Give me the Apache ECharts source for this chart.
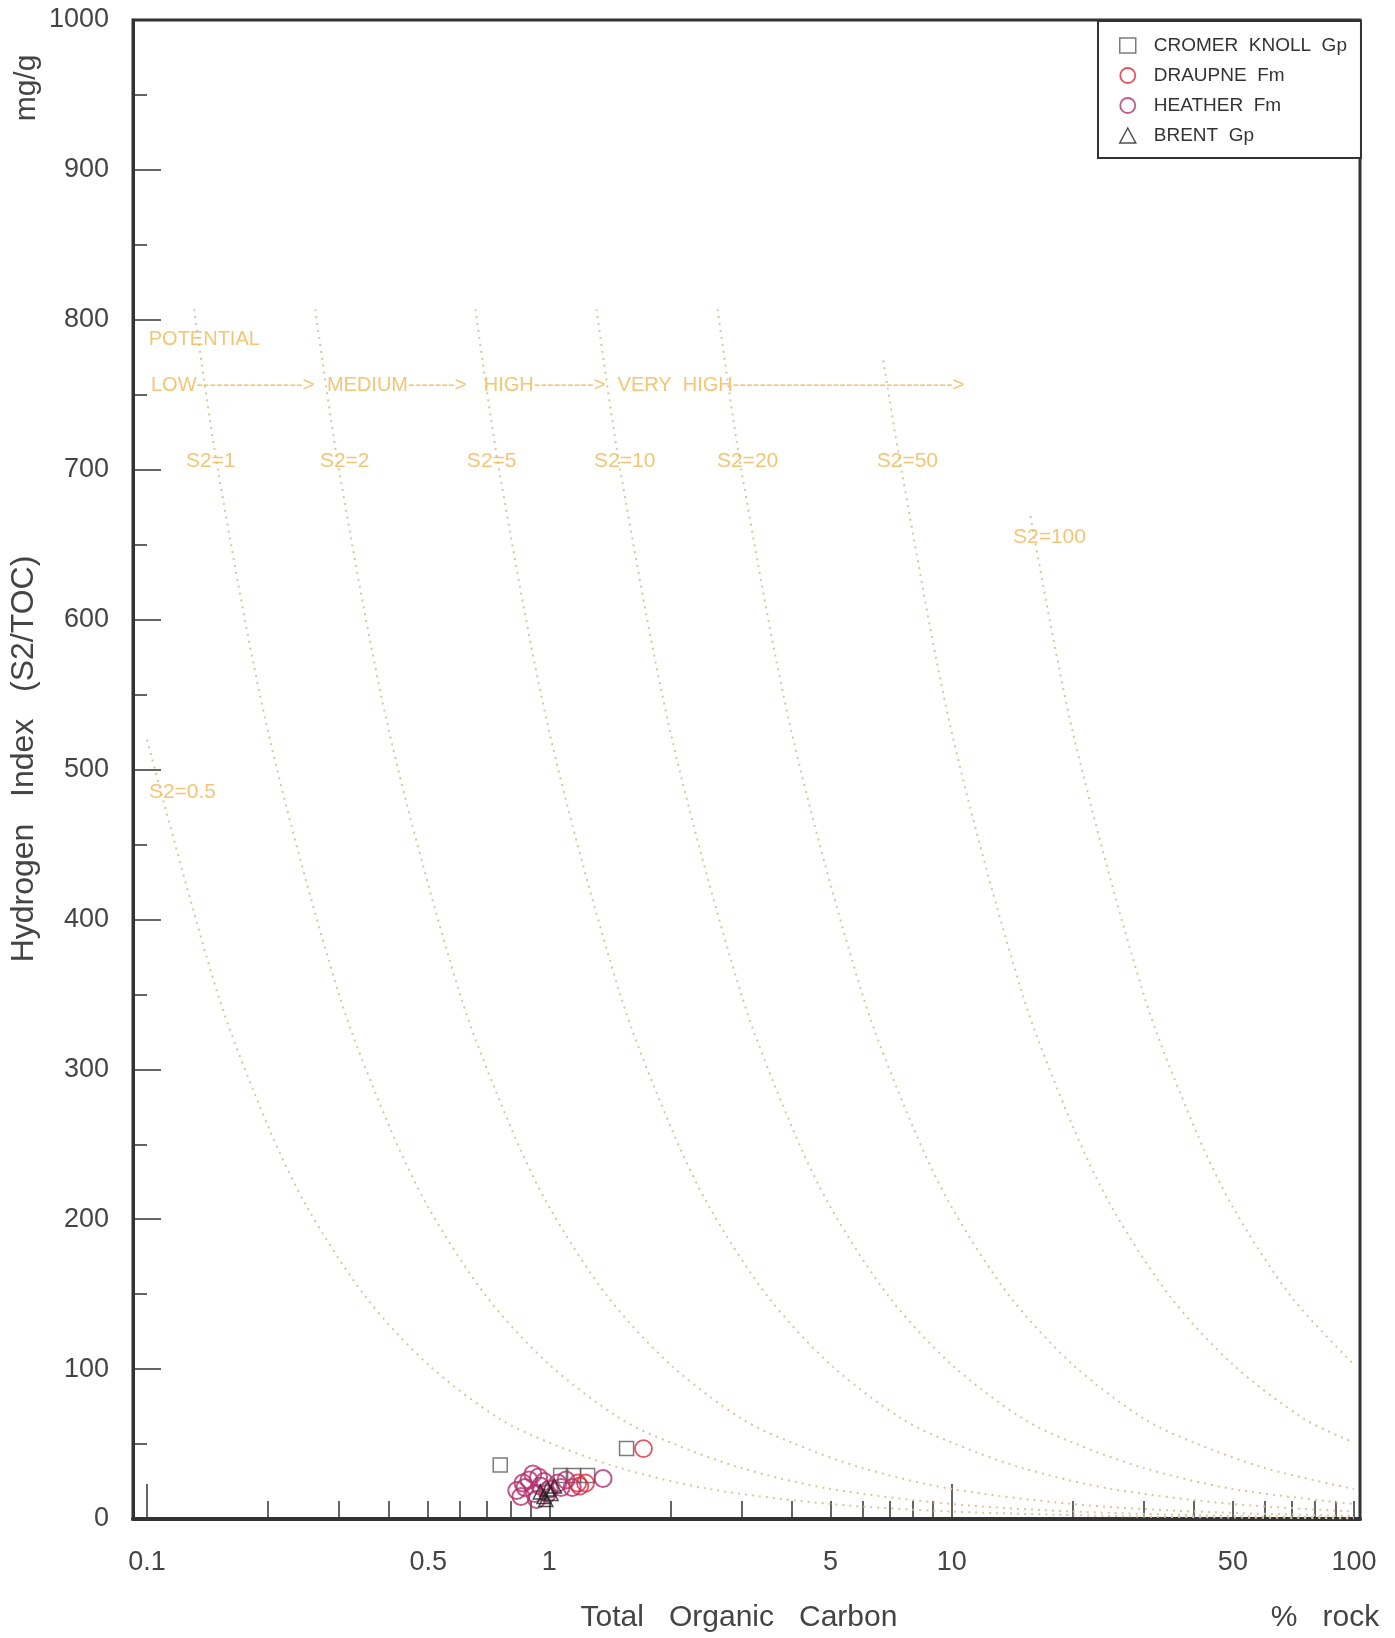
<!DOCTYPE html>
<html>
<head>
<meta charset="utf-8">
<title>Hydrogen Index vs Total Organic Carbon</title>
<script src="https://cdn.jsdelivr.net/npm/echarts@6/dist/echarts.min.js"></script>
<style>
  html, body { margin: 0; padding: 0; background: #fff; }
  #main { width: 1395px; height: 1638px; }
</style>
</head>
<body>
<div id="main"></div>
<script type="text/javascript">
// samples: TOC in % rock, HI in mg/g
var cromerToc = [0.755, 1.556, 1.067, 1.148, 1.245];
var cromerHi = [36, 47, 29, 29, 29];
var draupneToc = [1.714, 1.176, 1.23, 1.19];
var draupneHi = [47, 24, 24, 22];
var heatherToc = [0.83, 0.85, 0.86, 0.87, 0.89, 0.91, 0.92, 0.93, 0.94, 0.95, 0.97, 0.99, 1.00, 1.05, 1.07, 1.10, 1.14, 1.36];
var heatherHi = [19, 15, 24, 21, 26, 30, 17, 13, 28, 22, 25, 17, 20, 24, 21, 26, 21, 27];
var brentToc = [0.95, 0.97, 0.99, 1.01, 1.03, 0.98];
var brentHi = [18, 15, 20, 17, 22, 13];

// iso-S2 guide curves (dotted)
var s2_05_toc = [0.1, 0.15, 0.2, 0.25, 0.35, 0.5, 0.75, 1, 1.5, 2.5, 5, 10, 25, 50, 100];
var s2_05_hi = [520, 350, 262, 208, 148, 103, 67, 51, 34, 20, 10, 5, 2, 1, 0.5];
var s2_1_toc = [0.131, 0.15, 0.2, 0.3, 0.4, 0.5, 0.7, 1, 1.5, 2, 3, 5, 10, 20, 50, 100];
var s2_1_hi = [807, 700, 525, 350, 262, 208, 148, 103, 67, 51, 34, 20, 10, 5, 2, 1];
var s2_2_toc = [0.262, 0.3, 0.4, 0.6, 0.8, 1, 1.4, 2, 3, 4, 6, 10, 20, 40, 100];
var s2_2_hi = [807, 700, 525, 350, 262, 208, 148, 103, 67, 51, 34, 20, 10, 5, 2];
var s2_5_toc = [0.655, 0.75, 1, 1.5, 2, 2.5, 3.5, 5, 7.5, 10, 15, 25, 50, 100];
var s2_5_hi = [807, 700, 525, 350, 262, 208, 148, 103, 67, 51, 34, 20, 10, 5];
var s2_10_toc = [1.31, 1.5, 2, 3, 4, 5, 7, 10, 15, 20, 30, 50, 100];
var s2_10_hi = [807, 700, 525, 350, 262, 208, 148, 103, 67, 51, 34, 20, 10];
var s2_20_toc = [2.62, 3, 4, 6, 8, 10, 14, 20, 30, 40, 60, 100];
var s2_20_hi = [807, 700, 525, 350, 262, 208, 148, 103, 67, 51, 34, 20];
var s2_50_toc = [6.76, 7.5, 10, 15, 20, 25, 35, 50, 75, 100];
var s2_50_hi = [773, 700, 525, 350, 262, 208, 148, 103, 67, 51];
var s2_100_toc = [15.7, 20, 30, 40, 50, 70, 100];
var s2_100_hi = [669, 525, 350, 262, 208, 148, 103];

// annotation texts
var potText = ['POTENTIAL', 'LOW---------------->', 'MEDIUM------->', 'HIGH--------->', 'VERY  HIGH--------------------------------->'];
var potToc = [0.101, 0.1023, 0.280, 0.687, 1.478];
var potHi = [787, 756, 756, 756, 756];
var s2Text = ['S2=0.5', 'S2=1', 'S2=2', 'S2=5', 'S2=10', 'S2=20', 'S2=50', 'S2=100'];
var s2Toc = [0.1225, 0.144, 0.310, 0.719, 1.54, 3.11, 7.76, 17.5];
var s2Hi = [485, 706, 706, 706, 706, 706, 706, 655];

// axis ticks
var tocTicks = [0.2, 0.3, 0.4, 0.5, 0.6, 0.7, 0.8, 0.9, 1, 2, 3, 4, 5, 6, 7, 8, 9, 20, 30, 40, 50, 60, 70, 80, 90, 100];
var tocLongTicks = [0.1, 10];
var tocLabels = [0.1, 0.5, 1, 5, 10, 50, 100];

var FONT = 'Liberation Sans';
var ORANGE = '#efb850';
var GUIDE = '#d9c6a0';

function pairs(xs, ys) {
    return xs.map(function (x, i) { return [x, ys[i]]; });
}

function guide(xs, ys) {
    return {
        type: 'line',
        data: pairs(xs, ys),
        smooth: 0.3,
        symbol: 'none',
        silent: true,
        z: 1,
        lineStyle: { color: GUIDE, width: 2, type: [2, 5] }
    };
}

var X_MIN = 0.0923, X_MAX = 103.5;

var myChart = echarts.init(document.getElementById('main'), null, { renderer: 'canvas' });
var option = {
    animation: false,
    backgroundColor: '#fff',
    textStyle: { fontFamily: FONT },
    grid: {
        left: 133, top: 20, width: 1227, height: 1499,
        show: true, borderColor: '#333', borderWidth: 3
    },
    legend: {
        left: 1098, top: 21,
        orient: 'vertical',
        align: 'left',
        itemWidth: 16, itemHeight: 15, itemGap: 11,
        symbolKeepAspect: true,
        padding: [15, 14, 13, 21],
        borderColor: '#333', borderWidth: 2,
        backgroundColor: '#fff',
        textStyle: { fontSize: 19, color: '#333', fontFamily: FONT, padding: [0, 0, 0, 13] },
        data: [
            { name: 'CROMER  KNOLL  Gp', icon: 'rect', itemStyle: { color: 'transparent', borderColor: '#5a5a5a', borderWidth: 1.5 } },
            { name: 'DRAUPNE  Fm', icon: 'circle', itemStyle: { color: 'transparent', borderColor: '#e0283c', borderWidth: 1.8 } },
            { name: 'HEATHER  Fm', icon: 'circle', itemStyle: { color: 'transparent', borderColor: '#b3306e', borderWidth: 1.8 } },
            { name: 'BRENT  Gp', icon: 'triangle', itemStyle: { color: 'transparent', borderColor: '#222', borderWidth: 1.5 } }
        ]
    },
    xAxis: [
        {
            type: 'log',
            min: X_MIN, max: X_MAX,
            position: 'bottom',
            axisLine: { show: true, lineStyle: { color: '#333', width: 4 } },
            axisTick: { show: true, inside: true, length: 18, customValues: tocTicks, lineStyle: { color: '#333', width: 1.5 } },
            axisLabel: {
                show: true, customValues: tocLabels, margin: 30,
                fontSize: 27, color: '#444', fontFamily: FONT,
                formatter: function (v) { return String(+(+v).toPrecision(3)); }
            },
            splitLine: { show: false },
            minorTick: { show: false }
        },
        {
            type: 'log',
            min: X_MIN, max: X_MAX,
            position: 'bottom',
            axisLine: { show: false },
            axisTick: { show: true, inside: true, length: 35, customValues: tocLongTicks, lineStyle: { color: '#333', width: 1.5 } },
            axisLabel: { show: false },
            splitLine: { show: false }
        }
    ],
    yAxis: {
        type: 'value',
        min: 0, max: 1000, interval: 100,
        position: 'left',
        axisLine: { show: true, lineStyle: { color: '#333', width: 3 } },
        axisTick: { show: true, inside: true, length: 28, lineStyle: { color: '#333', width: 1.5 } },
        minorTick: { show: true, splitNumber: 2, length: 14, lineStyle: { color: '#333', width: 1.5 } },
        axisLabel: {
            margin: 24, fontSize: 27, color: '#444', fontFamily: FONT,
            formatter: function (v) { return String(v); }
        },
        splitLine: { show: false }
    },
    graphic: [
        {
            type: 'text', x: 24, y: 759, rotation: Math.PI / 2,
            style: { text: 'Hydrogen   Index   (S2/TOC)', font: '32px "Liberation Sans"', fill: '#444', align: 'center', verticalAlign: 'middle' }
        },
        {
            type: 'text', x: 27, y: 88, rotation: Math.PI / 2,
            style: { text: 'mg/g', font: '30px "Liberation Sans"', fill: '#444', align: 'center', verticalAlign: 'middle' }
        },
        {
            type: 'text', x: 739, y: 1618,
            style: { text: 'Total   Organic   Carbon', font: '30px "Liberation Sans"', fill: '#444', align: 'center', verticalAlign: 'middle' }
        },
        {
            type: 'text', x: 1325, y: 1618,
            style: { text: '%   rock', font: '30px "Liberation Sans"', fill: '#444', align: 'center', verticalAlign: 'middle' }
        }
    ],
    series: [
        guide(s2_05_toc, s2_05_hi),
        guide(s2_1_toc, s2_1_hi),
        guide(s2_2_toc, s2_2_hi),
        guide(s2_5_toc, s2_5_hi),
        guide(s2_10_toc, s2_10_hi),
        guide(s2_20_toc, s2_20_hi),
        guide(s2_50_toc, s2_50_hi),
        guide(s2_100_toc, s2_100_hi),
        {
            type: 'scatter',
            symbolSize: 0,
            silent: true,
            z: 3,
            data: potText.map(function (t, i) { return { name: t, value: [potToc[i], potHi[i]] }; }),
            label: { show: true, position: 'right', distance: 0, formatter: '{b}', color: ORANGE, fontSize: 20, fontFamily: FONT }
        },
        {
            type: 'scatter',
            symbolSize: 0,
            silent: true,
            z: 3,
            data: s2Text.map(function (t, i) { return { name: t, value: [s2Toc[i], s2Hi[i]] }; }),
            label: { show: true, position: 'inside', formatter: '{b}', color: ORANGE, fontSize: 21, fontFamily: FONT }
        },
        {
            name: 'CROMER  KNOLL  Gp',
            type: 'scatter',
            symbol: 'rect',
            symbolSize: 14,
            z: 4,
            data: pairs(cromerToc, cromerHi),
            itemStyle: { color: 'transparent', borderColor: '#5a5a5a', borderWidth: 1.5 }
        },
        {
            name: 'DRAUPNE  Fm',
            type: 'scatter',
            symbol: 'circle',
            symbolSize: 17,
            z: 4,
            data: pairs(draupneToc, draupneHi),
            itemStyle: { color: 'transparent', borderColor: '#e0283c', borderWidth: 1.8 }
        },
        {
            name: 'HEATHER  Fm',
            type: 'scatter',
            symbol: 'circle',
            symbolSize: 17,
            z: 4,
            data: pairs(heatherToc, heatherHi),
            itemStyle: { color: 'transparent', borderColor: '#b3306e', borderWidth: 2 }
        },
        {
            name: 'BRENT  Gp',
            type: 'scatter',
            symbol: 'triangle',
            symbolSize: 14,
            z: 4,
            data: pairs(brentToc, brentHi),
            itemStyle: { color: 'transparent', borderColor: '#222', borderWidth: 1.5 }
        }
    ]
};
myChart.setOption(option);
</script>
</body>
</html>
